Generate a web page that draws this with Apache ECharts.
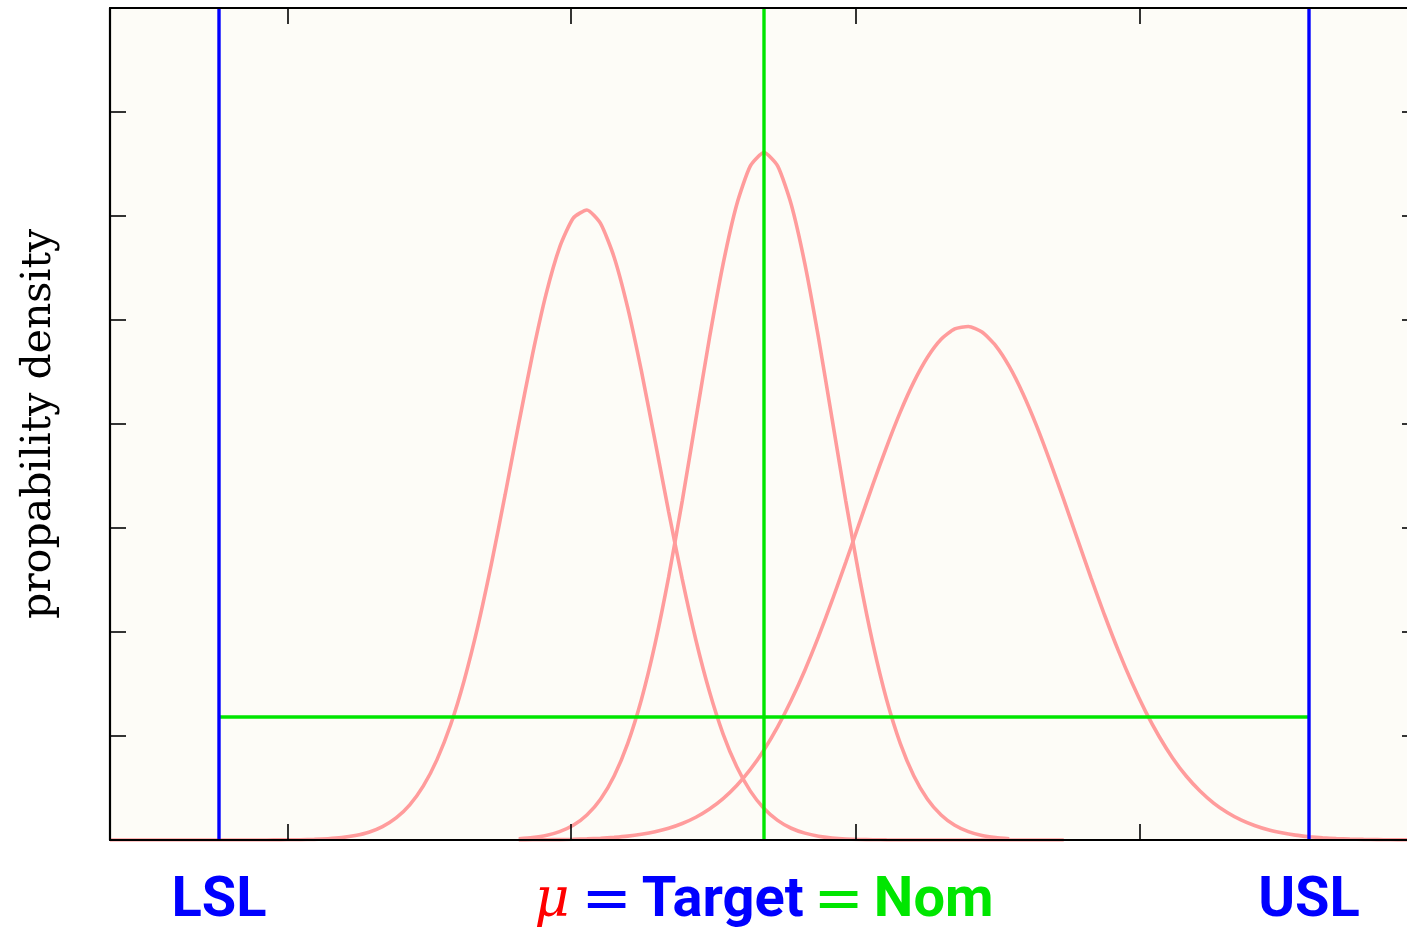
<!DOCTYPE html>
<html>
<head>
<meta charset="utf-8">
<script src="https://cdn.jsdelivr.net/npm/echarts@6/dist/echarts.min.js"></script>
<style>
  html, body { margin: 0; padding: 0; background: #ffffff; overflow: hidden; }
  #chart { width: 1407px; height: 929px; }
</style>
</head>
<body>
<div id="chart"></div>
<script>
// Process position, scaled so that LSL = -1, target = 0, USL = 1
const xGrid = [-1.2,-1.175,-1.15,-1.125,-1.1,-1.075,-1.05,-1.025,-1,-0.975,-0.95,-0.925,-0.9,-0.875,-0.85,-0.825,-0.8,-0.775,-0.75,-0.725,-0.7,-0.675,-0.65,-0.625,-0.6,-0.575,-0.55,-0.525,-0.5,-0.475,-0.45,-0.425,-0.4,-0.375,-0.35,-0.325,-0.3,-0.275,-0.25,-0.225,-0.2,-0.175,-0.15,-0.125,-0.1,-0.075,-0.05,-0.025,0,0.025,0.05,0.075,0.1,0.125,0.15,0.175,0.2,0.225,0.25,0.275,0.3,0.325,0.35,0.375,0.4,0.425,0.45,0.475,0.5,0.525,0.55,0.575,0.6,0.625,0.65,0.675,0.7,0.725,0.75,0.775,0.8,0.825,0.85,0.875,0.9,0.925,0.95,0.975,1,1.025,1.05,1.075,1.1,1.125,1.15,1.175,1.2];

// Probability density of three process distributions (null = not drawn)
const densityLeft = [0,0,0,0,0,0,0,0,0,0,0,0,0.001,0.002,0.003,0.006,0.012,0.023,0.043,0.075,0.129,0.212,0.338,0.52,0.773,1.108,1.537,2.056,2.659,3.32,4.004,4.663,5.246,5.699,5.979,6.058,5.929,5.604,5.116,4.51,3.84,3.158,2.508,1.923,1.425,1.019,0.704,0.47,0.303,0.189,0.113,0.066,0.037,0.02,0.01,0.005,0.003,0.001,0,0,0,0,0,0,0,0,0,0,0,0,0,null,null,null,null,null,null,null,null,null,null,null,null,null,null,null,null,null,null,null,null,null,null,null,null,null,null];
const densityCentred = [null,null,null,null,null,null,null,null,null,null,null,null,null,null,null,null,null,null,null,null,null,null,null,null,null,null,null,null,null,null,0.011,0.023,0.043,0.08,0.141,0.24,0.392,0.616,0.93,1.349,1.883,2.527,3.261,4.047,4.829,5.54,6.111,6.482,6.61,6.482,6.111,5.54,4.829,4.047,3.261,2.527,1.883,1.349,0.93,0.616,0.392,0.24,0.141,0.08,0.043,0.023,0.011,null,null,null,null,null,null,null,null,null,null,null,null,null,null,null,null,null,null,null,null,null,null,null,null,null,null,null,null,null,null];
const densityRight = [null,null,null,null,null,null,null,null,null,null,null,null,null,null,null,null,null,null,null,null,null,null,null,null,null,null,null,null,null,null,0.001,0.002,0.003,0.004,0.007,0.011,0.016,0.025,0.037,0.055,0.079,0.113,0.159,0.219,0.298,0.398,0.524,0.679,0.866,1.087,1.344,1.633,1.955,2.303,2.67,3.046,3.421,3.781,4.114,4.405,4.642,4.815,4.915,4.938,4.884,4.754,4.554,4.294,3.985,3.639,3.272,2.895,2.521,2.161,1.823,1.514,1.237,0.995,0.787,0.613,0.471,0.355,0.264,0.193,0.139,0.098,0.069,0.047,0.032,0.021,0.014,0.009,0.006,0.004,0.002,0.001,0.001];

// Specification limits, target and the target band level
const limitValues = [-1, 1];
const targetValue = 0;
const bandLevel = 1.183;

// Axis ranges and tick positions
const xRange = [-1.2, 1.2];
const yRange = [0, 8];
const xTickValues = [-0.873, -0.354, 0.168, 0.69];
const xLabelValues = [-1, 0, 1];
const yAxisTitle = 'propability density';

const PINK = '#ff9c9c';
const BLUE = '#0000ff';
const GREEN = '#00e600';
const RED = '#ff0000';

const zip = (xs, ys) => xs.map((x, i) => [x, ys[i]]);

function curve(values) {
  return {
    type: 'line', data: zip(xGrid, values), showSymbol: false, smooth: 0.2,
    connectNulls: false, lineStyle: { color: PINK, width: 3.6 }, z: 2, silent: true
  };
}
function segment(points, color) {
  return {
    type: 'line', data: points, showSymbol: false,
    lineStyle: { color: color, width: 3.4 }, z: 3, silent: true
  };
}

function xLabel(v) {
  if (Math.abs(v - limitValues[0]) < 1e-6) return '{lim|LSL}';
  if (Math.abs(v - limitValues[1]) < 1e-6) return '{lim|USL}';
  if (Math.abs(v - targetValue) < 1e-6) return '{mu|μ}{eqb|=}{lim|Target}{eqg|=}{nom|Nom}';
  return '';
}

const frameLine = { show: true, onZero: false, lineStyle: { color: '#000', width: 2.2 } };
const tickStyle = { show: true, inside: true, length: 16, lineStyle: { color: '#000', width: 1.6 } };

const chart = echarts.init(document.getElementById('chart'));
chart.setOption({
  animation: false,
  backgroundColor: '#ffffff',
  grid: {
    left: 110, top: 8, width: 1308, height: 832,
    containLabel: false, outerBoundsMode: 'none',
    show: true, backgroundColor: '#fdfcf7', borderWidth: 0
  },
  xAxis: [
    {
      type: 'value', min: xRange[0], max: xRange[1], position: 'bottom', z: 5,
      axisLine: frameLine,
      axisTick: Object.assign({}, tickStyle, { customValues: xTickValues }),
      splitLine: { show: false },
      axisLabel: {
        show: true, customValues: xLabelValues, margin: 34, formatter: xLabel,
        rich: {
          lim: { fontFamily: 'Roboto', fontWeight: 'bold', fontSize: 56, color: BLUE, lineHeight: 56 },
          nom: { fontFamily: 'Roboto', fontWeight: 'bold', fontSize: 56, color: GREEN, lineHeight: 56 },
          mu: { fontFamily: 'DejaVu Serif', fontStyle: 'italic', fontSize: 54, color: RED, padding: [0, 12, 0, 0], lineHeight: 56 },
          eqb: { fontFamily: 'DejaVu Sans', fontSize: 60, color: BLUE, padding: [0, 10, 0, 0], lineHeight: 56 },
          eqg: { fontFamily: 'DejaVu Sans', fontSize: 60, color: GREEN, padding: [0, 10, 0, 10], lineHeight: 56 }
        }
      }
    },
    {
      type: 'value', min: xRange[0], max: xRange[1], position: 'top', z: 5,
      axisLine: frameLine,
      axisTick: Object.assign({}, tickStyle, { customValues: xTickValues }),
      splitLine: { show: false },
      axisLabel: { show: false }
    }
  ],
  yAxis: [
    {
      type: 'value', min: yRange[0], max: yRange[1], interval: 1, position: 'left', z: 5,
      axisLine: frameLine, axisTick: tickStyle,
      splitLine: { show: false }, axisLabel: { show: false },
      name: yAxisTitle, nameLocation: 'middle', nameGap: 50, nameRotate: 90,
      nameTextStyle: { fontFamily: 'DejaVu Serif', fontSize: 41, color: '#000' }
    },
    {
      type: 'value', min: yRange[0], max: yRange[1], interval: 1, position: 'right', z: 5,
      axisLine: frameLine, axisTick: tickStyle,
      splitLine: { show: false }, axisLabel: { show: false }
    }
  ],
  series: [
    curve(densityLeft),
    curve(densityCentred),
    curve(densityRight),
    segment([[limitValues[0], bandLevel], [limitValues[1], bandLevel]], GREEN),
    segment([[targetValue, yRange[0]], [targetValue, yRange[1]]], GREEN),
    segment([[limitValues[0], yRange[0]], [limitValues[0], yRange[1]]], BLUE),
    segment([[limitValues[1], yRange[0]], [limitValues[1], yRange[1]]], BLUE)
  ]
});
</script>
</body>
</html>
